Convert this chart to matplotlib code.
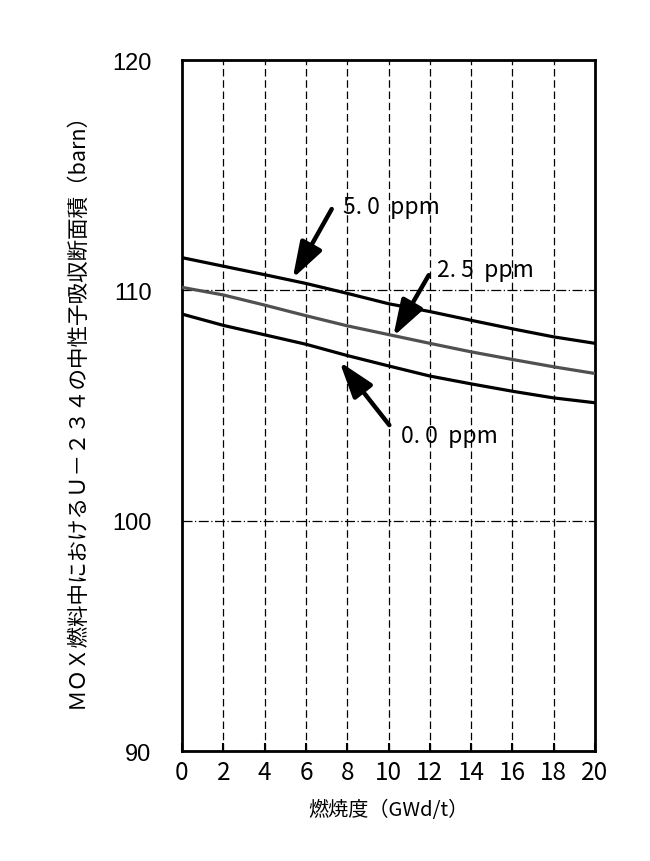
import numpy as np
import matplotlib
matplotlib.use('Agg')
import matplotlib.pyplot as plt

plt.rcParams['font.family'] = ['Noto Sans CJK JP', 'DejaVu Sans']

# 燃焼度 (GWd/t)
burnup = [0, 2, 4, 6, 8, 10, 12, 14, 16, 18, 20]
# 断面積 (barn)
sig_50 = [111.42, 111.05, 110.68, 110.30, 109.87, 109.42, 109.08, 108.70, 108.33, 107.98, 107.70]
sig_25 = [110.13, 109.80, 109.36, 108.90, 108.46, 108.08, 107.70, 107.33, 107.00, 106.68, 106.39]
sig_00 = [108.97, 108.48, 108.07, 107.66, 107.17, 106.72, 106.28, 105.94, 105.62, 105.33, 105.12]

xticks = [0, 2, 4, 6, 8, 10, 12, 14, 16, 18, 20]
yticks = [90, 100, 110, 120]

fig = plt.figure(figsize=(6.5, 8.62), dpi=100)
ax = fig.add_axes([0.28, 0.1276, 0.6354, 0.8016])

# grid
for x in xticks[1:-1]:
    ax.axvline(x, color='black', lw=0.9, ls=(0, (6, 3)), zorder=1)
for y in [100, 110]:
    ax.axhline(y, color='black', lw=0.9, ls=(0, (8, 2, 1, 2)), zorder=1)

ax.plot(burnup, sig_50, color='black', lw=2.3, zorder=3)
ax.plot(burnup, sig_25, color='#505050', lw=2.3, zorder=3)
ax.plot(burnup, sig_00, color='black', lw=2.3, zorder=3)

ax.set_xlim(0, 20)
ax.set_ylim(90, 120)
ax.set_xticks(xticks)
ax.set_yticks(yticks)
ax.tick_params(axis='x', direction='in', length=6, width=1.5, labelsize=17.5, pad=6)
ax.tick_params(axis='y', direction='in', length=0, labelsize=17, pad=22)
for lab in ax.get_yticklabels():
    lab.set_family(['Liberation Sans', 'DejaVu Sans'])
for s in ax.spines.values():
    s.set_linewidth(2.0)

ax.set_xlabel('燃焼度（GWd/t）', fontsize=14.5)
ax.xaxis.set_label_coords(0.499, -0.069)
ax.set_ylabel('ＭＯＸ燃料中におけるＵ－２３４の中性子吸収断面積（barn）', fontsize=15.5)
ax.yaxis.set_label_coords(-0.2276, 0.502)

aprops = dict(arrowstyle='-|>,head_length=1.0,head_width=0.33', color='black',
              lw=3.2, mutation_scale=22, shrinkA=0, shrinkB=0)
ax.annotate('', xy=(5.36, 110.52), xytext=(7.25, 113.53), arrowprops=aprops, zorder=4)
ax.annotate('', xy=(10.23, 108.0), xytext=(11.95, 110.66), arrowprops=aprops, zorder=4)
ax.annotate('', xy=(7.63, 106.9), xytext=(10.04, 104.15), arrowprops=aprops, zorder=4)

ax.text(7.78, 113.66, '5. 0  ppm', fontsize=16.5, va='center', ha='left')
ax.text(12.33, 110.9, '2. 5  ppm', fontsize=16.5, va='center', ha='left')
ax.text(10.61, 103.69, '0. 0  ppm', fontsize=16.5, va='center', ha='left')

fig.savefig('out.png', dpi=100)
